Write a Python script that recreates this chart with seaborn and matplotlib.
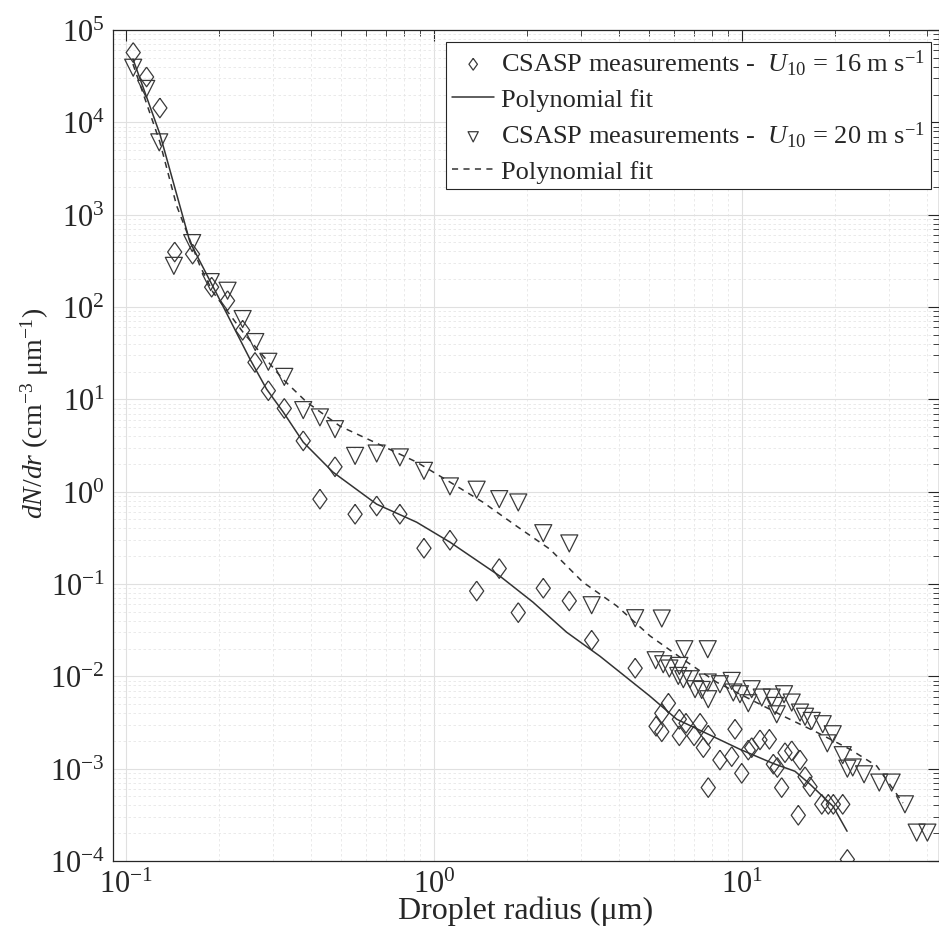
# Droplet size distribution dN/dr vs radius, two wind speeds, with polynomial fits

import numpy as np
import pandas as pd
import seaborn as sns
import matplotlib.pyplot as plt
from matplotlib.ticker import LogLocator, LogFormatterMathtext, NullFormatter

sns.set_theme(style="whitegrid")
plt.rcParams['font.family'] = ['Liberation Serif', 'DejaVu Serif']
plt.rcParams['mathtext.fontset'] = 'custom'
plt.rcParams['mathtext.rm'] = 'Liberation Serif'
plt.rcParams['mathtext.it'] = 'Liberation Serif:italic'
plt.rcParams['mathtext.bf'] = 'Liberation Serif:bold'

# CSASP measurements, U10 = 16 m/s (radius in um, dN/dr)
r16 = [0.1056, 0.1167, 0.1289, 0.144, 0.1646, 0.1898, 0.2138, 0.2393, 0.2624, 0.290,
       0.3267, 0.3764, 0.4264, 0.4773, 0.5546, 0.6517, 0.775, 0.928, 1.127, 1.376,
       1.629, 1.878, 2.264, 2.75, 3.25, 4.50, 5.26, 5.49, 5.49, 5.77,
       6.26, 6.26, 6.58, 6.99, 7.31, 7.49, 7.77, 7.77, 8.48, 9.26,
       9.49, 9.98, 10.48, 10.75, 11.44, 12.27, 12.64, 13.02, 13.45, 13.79,
       14.50, 15.23, 15.43, 16.02, 16.63, 18.15, 19.06, 19.79, 21.23, 21.98]
n16 = [5.7e4, 3.1e4, 1.43e4, 394, 374, 164, 117, 56, 25.1, 12.4,
       7.97, 3.55, 0.83, 1.86, 0.57, 0.70, 0.57, 0.244, 0.298, 0.084,
       0.147, 0.049, 0.090, 0.0656, 0.0246, 0.01225, 0.00288, 0.00251, 0.00398, 0.00511,
       0.00343, 0.00227, 0.0031, 0.00227, 0.0031, 0.00169, 0.0023, 0.000624, 0.00124, 0.00135,
       0.00267, 0.000891, 0.00159, 0.00169, 0.00205, 0.00208, 0.00112, 0.00103, 0.000624, 0.00149,
       0.00156, 0.000313, 0.00124, 0.000817, 0.000637, 0.000411, 0.000411, 0.000411, 0.000411, 0.000104]

# CSASP measurements, U10 = 20 m/s
r20 = [0.1056, 0.1164, 0.1283, 0.1431, 0.1641, 0.1885, 0.2138, 0.2393, 0.263, 0.290,
       0.3267, 0.3764, 0.4264, 0.4773, 0.5546, 0.6517, 0.775, 0.928, 1.127, 1.376,
       1.629, 1.878, 2.264, 2.75, 3.25, 4.50, 5.245, 5.49, 5.55, 5.81,
       6.21, 6.26, 6.45, 6.50, 6.78, 7.04, 7.40, 7.74, 7.74, 7.77,
       8.48, 9.26, 9.37, 9.85, 10.48, 10.75, 11.59, 12.49, 12.80, 12.96,
       13.69, 14.50, 15.43, 16.02, 16.84, 18.28, 18.92, 19.70, 21.23, 21.98,
       22.88, 24.9, 27.9, 30.6, 33.8, 36.9, 39.97]
n20 = [3.9e4, 2.3e4, 6070, 279, 492, 186, 150, 74, 41.7, 25.5,
       17.5, 7.64, 6.37, 4.75, 2.44, 2.59, 2.35, 1.68, 1.14, 1.05,
       0.83, 0.764, 0.355, 0.275, 0.0589, 0.0426, 0.01494, 0.0423, 0.01352, 0.01215,
       0.0101, 0.01297, 0.0093, 0.01966, 0.0093, 0.00725, 0.00712, 0.01966, 0.00857, 0.00565,
       0.00821, 0.00892, 0.00668, 0.0064, 0.00511, 0.00725, 0.00589, 0.00589, 0.00478, 0.00388,
       0.0064, 0.0052, 0.00405, 0.00365, 0.00329, 0.00303, 0.00188, 0.00236, 0.0014, 0.001,
       0.00103, 0.000869, 0.000707, 0.000707, 0.000411, 0.000203, 0.000203]

# polynomial fits
fit16_r = [0.1054, 0.1289, 0.1614, 0.1989, 0.2527, 0.2862, 0.3242, 0.3763, 0.4699, 0.6516,
           0.8786, 1.127, 1.638, 2.097, 2.697, 3.459, 5.027, 6.14, 9.85, 12.61,
           14.86, 16.63, 19.75, 21.93]
fit16_n = [4.85e4, 7470, 505, 131, 27.3, 12.9, 7.27, 3.44, 1.63, 0.732,
           0.467, 0.284, 0.1215, 0.0635, 0.0300, 0.0165, 0.00609, 0.00343, 0.00162, 0.00114,
           0.000937, 0.000678, 0.000391, 0.00021]
fit20_r = [0.1054, 0.1289, 0.1461, 0.1739, 0.1916, 0.2398, 0.3234, 0.3862, 0.4954, 0.683,
           0.8786, 1.127, 1.442, 1.855, 2.38, 3.046, 3.919, 5.027, 6.43, 8.28,
           10.62, 13.59, 17.48, 22.42, 27.37, 33.3]
fit20_n = [4.28e4, 6120, 1250, 279, 145, 53.5, 16.5, 9.33, 5.12, 3.11,
           2.09, 1.27, 0.769, 0.423, 0.238, 0.1046, 0.0579, 0.0274, 0.0153, 0.00863,
           0.00565, 0.00372, 0.00248, 0.00162, 0.00107, 0.000425]

lab16 = r'CSASP measurements -  $\mathit{U}_{\mathit{10}}$ = 16 m s$^{-1}$'
lab20 = r'CSASP measurements -  $\mathit{U}_{\mathit{10}}$ = 20 m s$^{-1}$'

ink = '#3a3a3a'
diamond = [(0, 1), (0.72, 0), (0, -1), (-0.72, 0), (0, 1)]

fig = plt.figure(figsize=(9.39, 9.37), dpi=100)
ax = fig.add_axes([113/939, 75/937, 826/939, 831/937])
ax.set_xscale('log')
ax.set_yscale('log')

sns.scatterplot(x=r16, y=n16, ax=ax, marker=diamond, s=200, color=ink,
                linewidth=0.9, label=lab16, zorder=3)
sns.lineplot(x=fit16_r, y=fit16_n, ax=ax, color='#333333', lw=1.1,
             estimator=None, label='Polynomial fit', zorder=4)
sns.scatterplot(x=r20, y=n20, ax=ax, marker='v', s=150, color=ink,
                linewidth=0.9, label=lab20, zorder=3)
sns.lineplot(x=fit20_r, y=fit20_n, ax=ax, color='#333333', lw=1.1,
             estimator=None, label='Polynomial fit', zorder=4)
ax.lines[1].set_dashes([4, 3.5])
for coll in ax.collections:
    coll.set_facecolor('none')
    coll.set_edgecolor(ink)

ax.set_xlim(0.0908, 43.6)
ax.set_ylim(1e-4, 1e5)

for axis in (ax.xaxis, ax.yaxis):
    axis.set_major_locator(LogLocator(base=10, numticks=20))
    axis.set_minor_locator(LogLocator(base=10, subs=np.arange(2, 10), numticks=20))
    axis.set_major_formatter(LogFormatterMathtext())
    axis.set_minor_formatter(NullFormatter())

ax.grid(True, which='major', color='#e0e0e0', lw=0.8, ls='-')
ax.grid(True, which='minor', color='#e6e6e6', lw=0.6, ls=(0, (3, 3)))
ax.set_axisbelow(True)
ax.tick_params(which='both', direction='in', top=True, right=True, color='#262626',
               labelsize=22, pad=6)
ax.tick_params(which='major', length=8, width=0.8)
ax.tick_params(which='minor', length=4, width=0.6)
for sp in ax.spines.values():
    sp.set_color('#262626')
    sp.set_linewidth(0.9)

ax.set_xlabel('Droplet radius (μm)', fontsize=23, labelpad=-2)
ax.set_ylabel(r'$\mathit{dN/dr}$ (cm$^{-3}$ μm$^{-1}$)', fontsize=20)
ax.yaxis.set_label_coords(-0.075, 0.54)

h, l = ax.get_legend_handles_labels()
leg = ax.legend(h, l, loc='upper right', bbox_to_anchor=(0.990, 0.9856),
                borderaxespad=0, fontsize=19, frameon=True, fancybox=False,
                handlelength=1.6, handletextpad=0.25, labelspacing=0.36,
                borderpad=0.22, markerscale=0.6)
leg.get_frame().set_edgecolor('#262626')
leg.get_frame().set_linewidth(0.8)
leg.get_frame().set_alpha(1)

plt.savefig('out.png', dpi=100)
